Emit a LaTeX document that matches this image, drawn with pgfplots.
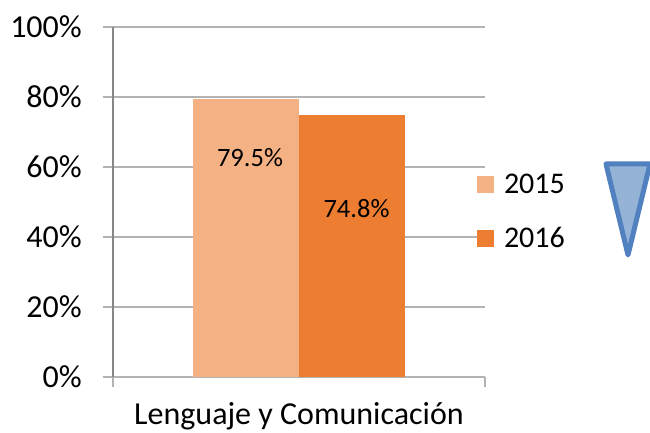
\documentclass[border=0pt]{standalone}
\usepackage{fontspec}
\setmainfont{Carlito}
\usepackage{pgfplots}
\pgfplotsset{compat=1.18}
\definecolor{c15}{HTML}{F4B183}
\definecolor{c16}{HTML}{ED7D31}
\definecolor{gridc}{HTML}{B3B3B3}
\definecolor{axc}{HTML}{878787}
\definecolor{triE}{HTML}{5281C0}
\definecolor{triF}{HTML}{95B3D7}
\begin{document}
\begin{tikzpicture}[x=1pt,y=1pt]
\path[use as bounding box] (-113,-56) rectangle (537,377);
\begin{axis}[
  at={(0,0)}, anchor=south west,
  scale only axis, width=372pt, height=350pt,
  xmin=-186, xmax=186, ymin=0, ymax=100,
  ybar=0pt, bar width=106pt,
  axis x line*=bottom, axis y line*=left,
  tick align=outside, major tick length=10pt,
  ymajorgrids, grid style={gridc, line width=1.5pt},
  y axis line style={axc, line width=2pt},
  x axis line style={gridc, line width=1.5pt},
  ytick={0,20,40,60,80,100},
  yticklabels={0\%,20\%,40\%,60\%,80\%,100\%},
  ytick style={gridc, line width=1.5pt},
  xtick={-186,186}, xticklabels={},
  xtick style={gridc, line width=1.5pt},
  extra x ticks={0},
  extra x tick labels={Lenguaje y Comunicación},
  extra x tick style={major tick length=0pt, xticklabel style={anchor=base, yshift=-47pt}},
  every tick label/.append style={font=\fontsize{32}{38}\selectfont},
  yticklabel style={inner sep=0pt, anchor=east, xshift=-21pt},
  legend style={draw=none, fill=none, inner sep=0pt, outer sep=0pt,
    at={(axis cs:178,57.9)}, anchor=north west, row sep=32pt,
    font=\fontsize{30}{36}\selectfont, nodes={inner sep=0pt},
    /tikz/every odd column/.style={column sep=10pt}},
  legend cell align=left,
  legend image code/.code={\path[#1,draw=none] (0pt,-8.5pt) rectangle (17pt,8.5pt);},
]
\addplot[fill=c15, draw=none] coordinates {(0,79.5)};
\addplot[fill=c16, draw=none] coordinates {(0,74.8)};
\legend{2015,2016}
\node[font=\fontsize{26.5}{30}\selectfont, inner sep=0pt] at (axis cs:-49,62.7) {79.5\%};
\node[font=\fontsize{26.5}{30}\selectfont, inner sep=0pt] at (axis cs:57.5,48.1) {74.8\%};
\end{axis}
\draw[triE, line width=5pt, fill=triF, line join=round] (493,213) -- (537,213) -- (515,122) -- cycle;
\end{tikzpicture}
\end{document}
